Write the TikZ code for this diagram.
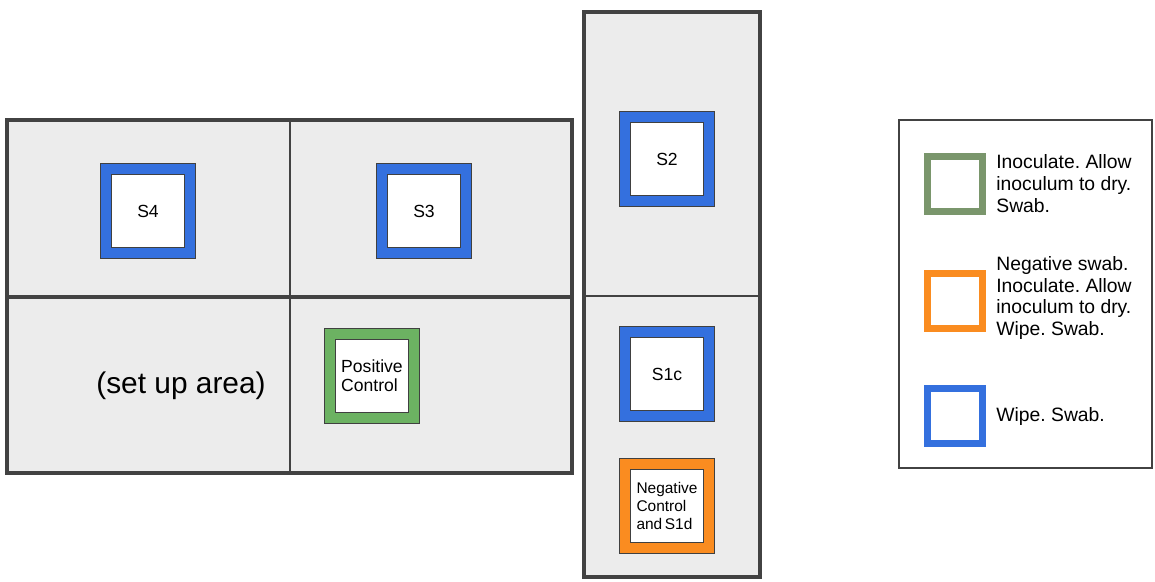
\documentclass[tikz,border=0pt]{standalone}
\usepackage{fontspec}
\setmainfont{Liberation Sans}
\frenchspacing
\definecolor{panelgray}{RGB}{236,236,236}
\definecolor{framegray}{RGB}{66,66,66}
\definecolor{wipeblue}{RGB}{52,112,222}
\definecolor{posgreen}{RGB}{108,178,98}
\definecolor{keygreen}{RGB}{122,150,108}
\definecolor{negorange}{RGB}{250,140,32}
\tikzset{
    panel/.style={draw=framegray, line width=2pt, fill=panelgray},
    swab/.style={draw=black!75, line width=0.4pt, double=#1, double distance=6pt,
        fill=white, minimum size=1.68cm, inner sep=1pt, align=center,
        font=\fontsize{10}{11}\selectfont},
    key/.style={draw=black!75, line width=0.4pt, double=#1, double distance=3.6pt,
        fill=white, minimum size=1.1cm},
    keytext/.style={anchor=west, align=left, inner sep=0pt,
        font=\fontsize{11}{12.5}\selectfont}
}
\begin{document}
\begin{tikzpicture}[x=0.02cm, y=-0.02cm]
    \useasboundingbox (0,0) rectangle (1155,581);
    % test area, two rows
    \draw[panel] (7,120) rectangle (572,473);
    \draw[framegray, line width=1.6pt] (290,120) -- (290,473);
    \draw[framegray, line width=2pt] (7,297) -- (572,297);
    % side column
    \draw[panel] (584,12) rectangle (760,577);
    \draw[framegray, line width=1.4pt] (584,296) -- (760,296);

    \draw (148,211)node[swab=wipeblue, name=sfour]{S4};
    \draw (424,211)node[swab=wipeblue, name=sthree]{S3};
    \draw (667,159)node[swab=wipeblue, name=stwo]{S2};
    \draw (667,374)node[swab=wipeblue, name=sonec]{S1c};
    \draw (667,506)node[swab=negorange, name=neg, align=left, font=\fontsize{8.8}{10.5}\selectfont]{Negative\\Control\\and\,S1d};
    \draw (372,376)node[swab=posgreen, name=pos, align=left]{Positive\\Control};
    \draw (181,386)node[name=setup, font=\fontsize{17}{20}\selectfont]{(set up area)};

    % key
    \draw[draw=framegray, line width=1.1pt, fill=white] (899,120) rectangle (1152,468);
    \draw (955,184)node[key=keygreen, name=kgreen]{};
    \draw (955,301)node[key=negorange, name=korange]{};
    \draw (955,416)node[key=wipeblue, name=kblue]{};
    \node[keytext] (tgreen) at (996,184) {Inoculate. Allow\\inoculum to dry.\\Swab.};
    \node[keytext] (torange) at (996,298) {Negative swab.\\Inoculate. Allow\\inoculum to dry.\\Wipe. Swab.};
    \node[keytext] (tblue) at (996,416) {Wipe. Swab.};
\end{tikzpicture}
\end{document}
